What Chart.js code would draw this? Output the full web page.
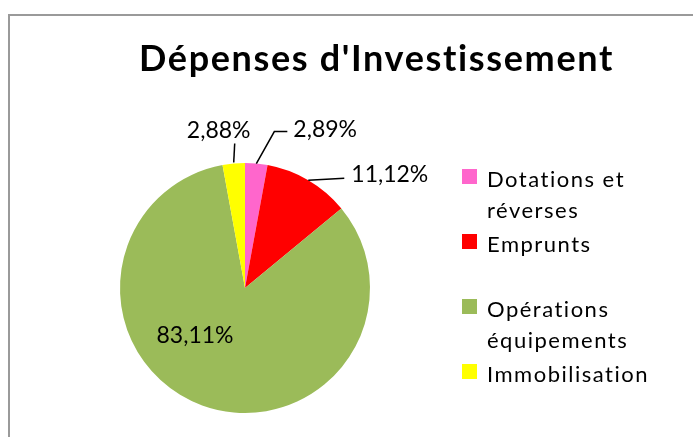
<!DOCTYPE html>
<html>
<head>
<meta charset="utf-8">
<script src="https://cdn.jsdelivr.net/npm/chart.js@4/dist/chart.umd.min.js"></script>
<style>
  html, body { margin: 0; padding: 0; background: #fff; }
  #wrap { width: 693px; height: 437px; }
</style>
</head>
<body>
<div id="wrap"><canvas id="myChart" width="693" height="437"></canvas></div>
<script>
// data
const chartTitle = "Dépenses d'Investissement"
const categories = ['Dotations et réverses', 'Emprunts', 'Opérations équipements', 'Immobilisation']
const legendLines = [['Dotations et', 'réverses'], ['Emprunts'], ['Opérations', 'équipements'], ['Immobilisation']]
const values = [2.89, 11.12, 83.11, 2.88]
const colors = ['#FF66CC', '#FF0000', '#9BBB59', '#FFFF00']

const labelFont = '23px Lato'

// where each percentage label goes, relative to the slice's outer edge (or centre for inside)
const labelStyle = [
    { leader: [[0, 0], [18, -32], [31, -32]], dx: 37, dy: -34, align: 'left' },
    { leader: [[0, 0], [36, -2]], dx: 43, dy: -6, align: 'left' },
    { inside: true, dx: -50, dy: 48, align: 'center' },
    { leader: [[0, -1], [1, -20]], dx: -15, dy: -33, align: 'center' }
]

function fmt(v) {
    return v.toFixed(2).replace('.', ',') + '%'
}

const decor = {
    id: 'decor',
    beforeDraw(chart) {
        const ctx = chart.ctx
        ctx.save()
        ctx.strokeStyle = '#9a9a9a'
        ctx.lineWidth = 2
        ctx.beginPath()
        ctx.moveTo(9, 437)
        ctx.lineTo(9, 15)
        ctx.lineTo(693, 15)
        ctx.stroke()
        ctx.restore()
    },
    afterDraw(chart) {
        const ctx = chart.ctx
        ctx.save()

        // title, spread out to the width Excel gave it
        ctx.fillStyle = '#000'
        ctx.font = 'bold 36px Lato'
        ctx.letterSpacing = '0px'
        const w = ctx.measureText(chartTitle).width
        const sp = Math.max(0, (474 - w) / (chartTitle.length - 1))
        ctx.letterSpacing = sp.toFixed(2) + 'px'
        ctx.textAlign = 'left'
        ctx.textBaseline = 'alphabetic'
        ctx.fillText(chartTitle, 139, 71)
        ctx.letterSpacing = '0px'

        // labels
        const meta = chart.getDatasetMeta(0)
        ctx.font = labelFont
        ctx.strokeStyle = '#000'
        ctx.lineWidth = 1.5
        meta.data.forEach((arc, i) => {
            const p = arc.getProps(['x', 'y', 'startAngle', 'endAngle', 'outerRadius'], true)
            const mid = (p.startAngle + p.endAngle) / 2
            const st = labelStyle[i]
            let bx, by
            if (st.inside) {
                bx = p.x
                by = p.y
            } else {
                bx = p.x + Math.cos(mid) * p.outerRadius
                by = p.y + Math.sin(mid) * p.outerRadius
                ctx.beginPath()
                st.leader.forEach((pt, k) => {
                    if (k == 0) ctx.moveTo(bx + pt[0], by + pt[1])
                    else ctx.lineTo(bx + pt[0], by + pt[1])
                })
                ctx.stroke()
            }
            ctx.textAlign = st.align
            ctx.textBaseline = 'middle'
            ctx.fillText(fmt(values[i]), bx + st.dx, by + st.dy)
        })

        // legend
        ctx.textAlign = 'left'
        ctx.textBaseline = 'alphabetic'
        ctx.font = '22px Lato'
        ctx.letterSpacing = '1.5px'
        legendLines.forEach((lines, i) => {
            const base = 187 + 65 * i
            ctx.fillStyle = colors[i]
            ctx.fillRect(462, base - 18, 15, 15)
            ctx.fillStyle = '#000'
            lines.forEach((t, k) => {
                ctx.fillText(t, 487, base + 31 * k)
            })
        })
        ctx.restore()
    }
}

new Chart(document.getElementById('myChart'), {
    type: 'pie',
    data: {
        labels: categories,
        datasets: [{
            data: values,
            backgroundColor: colors,
            borderWidth: 0
        }]
    },
    options: {
        responsive: false,
        animation: false,
        layout: { padding: { left: 120, right: 323, top: 163, bottom: 24 } },
        plugins: {
            legend: { display: false },
            title: { display: false },
            tooltip: { enabled: false }
        }
    },
    plugins: [decor]
})
</script>
</body>
</html>
